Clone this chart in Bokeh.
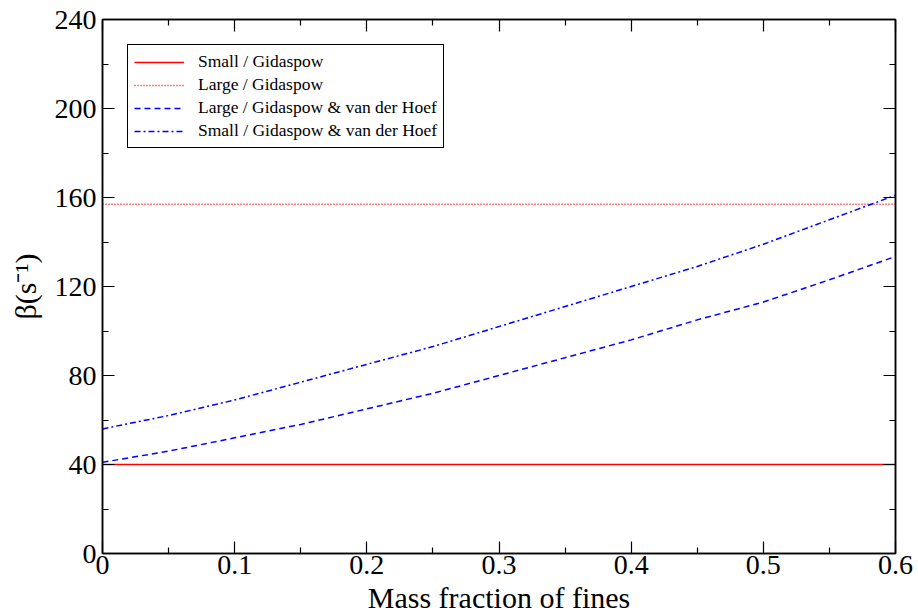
from bokeh.plotting import figure
from bokeh.models import LinearAxis, Range1d, Legend, LegendItem, FixedTicker
from bokeh.embed import file_html
from bokeh.resources import INLINE

# Data
x_const = [0.0, 0.6]
small_gidaspow = [40.0, 40.0]
large_gidaspow = [157.0, 157.0]

x_curve = [0.0, 0.05, 0.1, 0.15, 0.2, 0.25, 0.3, 0.35, 0.4, 0.45, 0.5, 0.55, 0.6]
large_gvdh = [41, 46, 52, 58, 65, 72, 80, 88, 96, 105, 113, 123, 133.5]
small_gvdh = [56, 62, 69, 77, 85, 93, 102, 111, 120, 129, 139, 150, 161]

x_ticks = [0, 0.1, 0.2, 0.3, 0.4, 0.5, 0.6]
x_minor = [0.05, 0.15, 0.25, 0.35, 0.45, 0.55]
y_ticks = [0, 40, 80, 120, 160, 200, 240]
y_minor = [20, 60, 100, 140, 180, 220]

FONT = "Liberation Serif"

p = figure(width=918, height=616, output_backend="svg", toolbar_location=None,
           x_range=Range1d(0, 0.6), y_range=Range1d(0, 240),
           min_border_left=102, min_border_right=23, min_border_top=19, min_border_bottom=62)
p.grid.visible = False
p.outline_line_color = "black"
p.outline_line_width = 1.5
p.background_fill_color = "white"
p.border_fill_color = "white"

r1 = p.line(x_const, small_gidaspow, line_color="#ff0000", line_width=1.5)
r2 = p.line(x_const, large_gidaspow, line_color="#ff0000", line_width=1.5, line_dash="1 2")
r3 = p.line(x_curve, large_gvdh, line_color="#0000ff", line_width=1.5, line_dash="6 4")
r4 = p.line(x_curve, small_gvdh, line_color="#0000ff", line_width=1.5, line_dash="6 3 2 3")

def style_axis(ax, ticks, minor, labels=True):
    ax.ticker = FixedTicker(ticks=ticks, minor_ticks=minor)
    ax.major_tick_in = 12
    ax.major_tick_out = 0
    ax.minor_tick_in = 6
    ax.minor_tick_out = 0
    ax.axis_line_color = "black"
    ax.axis_line_width = 1.5
    ax.major_tick_line_color = "black"
    ax.minor_tick_line_color = "black"
    ax.major_tick_line_width = 1.2
    ax.minor_tick_line_width = 1.2
    ax.major_label_text_font = FONT
    ax.major_label_text_font_size = "28px"
    ax.major_label_text_color = "black"
    if not labels:
        ax.major_label_text_font_size = "0px"
        ax.major_label_text_alpha = 0

xa = p.xaxis[0]
style_axis(xa, x_ticks, x_minor)
xa.major_label_standoff = 2
xa.axis_label = "Mass fraction of fines"
xa.axis_label_text_font = FONT
xa.axis_label_text_font_size = "30px"
xa.axis_label_text_font_style = "normal"
xa.axis_label_text_color = "black"
xa.axis_label_standoff = 4

ya = p.yaxis[0]
style_axis(ya, y_ticks, y_minor)
ya.major_label_standoff = 6
ya.axis_label = "β(s⁻¹)"
ya.axis_label_text_font = FONT
ya.axis_label_text_font_size = "30px"
ya.axis_label_text_font_style = "normal"
ya.axis_label_text_color = "black"
ya.axis_label_standoff = 10

top = LinearAxis()
style_axis(top, x_ticks, x_minor, labels=False)
p.add_layout(top, "above")
right = LinearAxis()
style_axis(right, y_ticks, y_minor, labels=False)
p.add_layout(right, "right")

legend = Legend(items=[
    LegendItem(label="Small / Gidaspow", renderers=[r1]),
    LegendItem(label="Large / Gidaspow", renderers=[r2]),
    LegendItem(label="Large / Gidaspow & van der Hoef", renderers=[r3]),
    LegendItem(label="Small / Gidaspow & van der Hoef", renderers=[r4]),
])
legend.location = "top_left"
legend.margin = 25
legend.label_text_font = FONT
legend.label_text_font_size = "17.5px"
legend.label_text_color = "black"
legend.label_height = 18
legend.glyph_height = 18
legend.glyph_width = 50
legend.spacing = 2
legend.padding = 6
legend.label_standoff = 14
legend.border_line_color = "black"
legend.border_line_width = 1
legend.border_line_alpha = 1
legend.background_fill_alpha = 1
p.add_layout(legend, "center")

open("out.html", "w").write(file_html(p, INLINE))
